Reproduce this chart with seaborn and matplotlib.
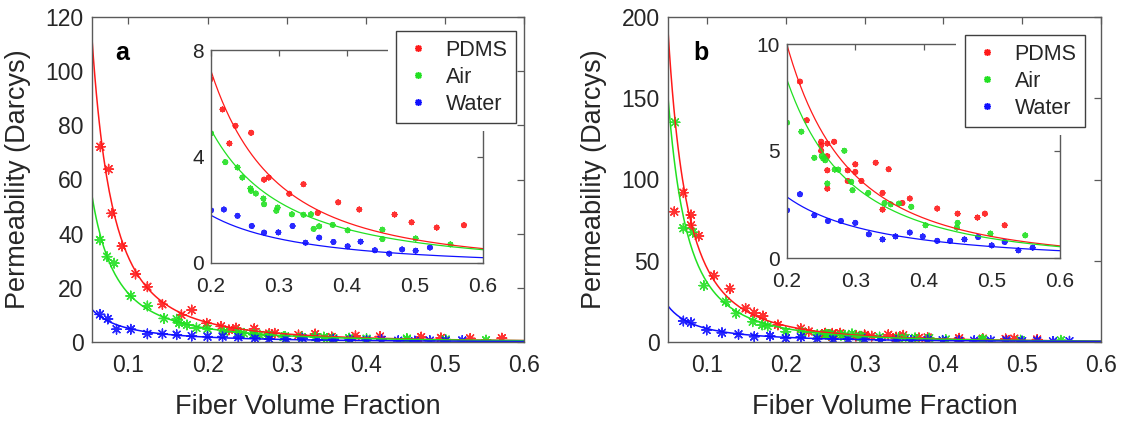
import numpy as np
import pandas as pd
import matplotlib
matplotlib.use("Agg")
import matplotlib.pyplot as plt
from matplotlib.lines import Line2D
from matplotlib.patches import Rectangle
import seaborn as sns

sns.set_style("white")
plt.rcParams['font.family'] = ['Liberation Sans', 'DejaVu Sans']

fluids = ["PDMS", "Air", "Water"]
colors = {"PDMS": "#ff1a1a", "Air": "#22e022", "Water": "#1010ff"}

# ---------------- Panel a data ----------------
a_pdms_x = [0.0646, 0.075, 0.079, 0.092, 0.109, 0.124, 0.143, 0.167, 0.180, 0.199,
            0.217, 0.227, 0.236, 0.259, 0.278, 0.285, 0.315, 0.336, 0.357, 0.387,
            0.418, 0.470, 0.495, 0.532, 0.572]
a_pdms_y = [72.1, 63.8, 47.5, 35.4, 25.1, 20.4, 13.9, 10.0, 11.8, 6.9,
            5.77, 4.49, 5.15, 4.89, 3.13, 3.21, 2.60, 2.96, 1.88, 2.28,
            2.01, 1.82, 1.53, 1.33, 1.42]
a_air_x = [0.064, 0.073, 0.082, 0.103, 0.124, 0.145, 0.161, 0.164, 0.174, 0.186,
           0.200, 0.221, 0.239, 0.246, 0.258, 0.259, 0.266, 0.277, 0.278, 0.296,
           0.298, 0.319, 0.336, 0.347, 0.351, 0.359, 0.379, 0.401, 0.452, 0.452,
           0.501, 0.552]
a_air_y = [37.7, 31.5, 29.1, 17.0, 13.3, 8.7, 8.4, 7.0, 6.3, 5.2,
           4.87, 3.79, 3.59, 3.21, 2.80, 2.71, 2.61, 2.42, 2.21, 1.96,
           2.08, 1.83, 1.81, 1.83, 1.28, 1.38, 1.43, 1.23, 1.25, 0.90,
           0.92, 0.70]
a_water_x = [0.064, 0.074, 0.085, 0.103, 0.124, 0.143, 0.161, 0.180,
             0.200, 0.219, 0.239, 0.260, 0.278, 0.299, 0.320, 0.339, 0.359,
             0.380, 0.401, 0.420, 0.441, 0.462, 0.481, 0.501, 0.522]
a_water_y = [10.2, 8.5, 4.7, 4.7, 3.0, 3.0, 2.7, 2.2,
             1.98, 2.01, 1.77, 1.39, 1.14, 1.15, 1.39, 0.76, 0.95,
             0.79, 0.63, 0.80, 0.48, 0.35, 0.51, 0.46, 0.58]

# ---------------- Panel b data ----------------
b_pdms_x = [0.0585, 0.070, 0.0797, 0.0797, 0.0895, 0.109, 0.129, 0.149, 0.160, 0.171,
            0.190, 0.219, 0.229, 0.250, 0.250, 0.250, 0.259, 0.269, 0.259, 0.259,
            0.259, 0.289, 0.289, 0.300, 0.300, 0.309, 0.330, 0.340, 0.340, 0.349,
            0.369, 0.380, 0.420, 0.450, 0.479, 0.490, 0.519]
b_pdms_y = [80.2, 91.9, 78.2, 71.8, 65.2, 40.8, 32.8, 20.7, 18.0, 16.0,
            10.5, 8.24, 6.44, 5.43, 5.27, 5.01, 5.35, 5.43, 4.76, 4.10,
            3.24, 4.10, 3.60, 4.38, 4.02, 3.60, 4.45, 3.04, 2.26, 4.15,
            2.57, 2.78, 2.31, 2.07, 1.89, 2.07, 1.53]
b_air_x = [0.0594, 0.070, 0.0819, 0.096, 0.124, 0.137, 0.158, 0.170, 0.177,
           0.200, 0.221, 0.240, 0.251, 0.253, 0.256, 0.259, 0.270, 0.275, 0.284,
           0.294, 0.296, 0.319, 0.343, 0.352, 0.364, 0.382, 0.403, 0.449, 0.450,
           0.498, 0.549]
b_air_y = [135.2, 70.0, 67.5, 34.7, 24.8, 17.6, 12.5, 10.5, 9.8,
           6.32, 5.90, 4.68, 4.76, 4.65, 4.57, 3.48, 4.13, 4.13, 5.01,
           3.56, 3.17, 3.04, 2.57, 2.51, 2.54, 2.39, 1.53, 1.42, 1.64,
           1.14, 1.06]
b_water_x = [0.070, 0.0797, 0.0996, 0.119, 0.140, 0.160, 0.180,
             0.200, 0.219, 0.240, 0.260, 0.279, 0.300, 0.320, 0.340, 0.359,
             0.380, 0.399, 0.420, 0.439, 0.460, 0.480, 0.500, 0.519, 0.539, 0.560]
b_water_y = [12.9, 11.9, 7.4, 5.7, 4.7, 3.3, 3.7,
             2.23, 2.98, 2.00, 1.73, 1.73, 1.64, 1.11, 0.87, 1.01,
             1.19, 1.01, 0.80, 0.80, 0.87, 0.98, 0.59, 0.75, 0.36, 0.48]

# fitted model curves K = A * Vf^-b * (1 - Vf)^n  (parameters read from the drawn fits)
fit_a = {"PDMS": (0.310, 2.028, 0.525), "Air": (0.341, 1.746, 0.556), "Water": (0.2745, 1.315, 1.078)}
fit_b = {"PDMS": (0.4607, 2.036, 0.912), "Air": (0.3952, 2.005, 0.802), "Water": (0.3746, 1.382, 0.873)}

xlim_a = (0.054, 0.6)
xlim_b = (0.0505, 0.6)


def make_points(xs, ys):
    rows = []
    for f, x, y in zip(fluids, xs, ys):
        rows.append(pd.DataFrame({"x": x, "y": y, "fluid": f}))
    return pd.concat(rows, ignore_index=True)


def make_fit(params, lo):
    rows = []
    grid = np.linspace(lo, 0.6, 300)
    for f in fluids:
        A, b, n = params[f]
        rows.append(pd.DataFrame({"x": grid, "y": A * grid ** (-b) * (1 - grid) ** n, "fluid": f}))
    return pd.concat(rows, ignore_index=True)


pts_a = make_points([a_pdms_x, a_air_x, a_water_x], [a_pdms_y, a_air_y, a_water_y])
pts_b = make_points([b_pdms_x, b_air_x, b_water_x], [b_pdms_y, b_air_y, b_water_y])
fit_a_df = make_fit(fit_a, xlim_a[0])
fit_b_df = make_fit(fit_b, xlim_b[0])

W, H = 1125, 421
fig = plt.figure(figsize=(W / 100, H / 100), dpi=100)


def px_axes(l, t, r, b):
    return fig.add_axes([l / W, 1 - b / H, (r - l) / W, (b - t) / H])


TXT = "#262626"
SPINE = "#5a5a5a"
ast = (8, 2, 0)


def style(ax, tick_size, ticklen, padx, pady):
    for s in ax.spines.values():
        s.set_color(SPINE)
        s.set_linewidth(1.0)
        s.set_visible(True)
    ax.tick_params(axis="both", which="both", direction="in", top=True, right=True,
                   length=ticklen, width=0.9, color=SPINE, labelcolor=TXT,
                   labelsize=tick_size)
    ax.tick_params(axis="x", pad=padx)
    ax.tick_params(axis="y", pad=pady)
    ax.set_facecolor("white")


def draw(ax, pts, fit, xlim, ylim, yticks, main):
    sns.lineplot(data=fit, x="x", y="y", hue="fluid", hue_order=fluids, palette=colors,
                 ax=ax, legend=False, linewidth=1.1 if main else 0.9, sort=False)
    sns.scatterplot(data=pts, x="x", y="y", hue="fluid", hue_order=fluids, palette=colors,
                    ax=ax, legend=False, marker=ast, s=48 if main else 9,
                    linewidth=1.0 if main else 1.4, edgecolor=None, alpha=0.9)
    ax.set_xlim(*xlim)
    ax.set_ylim(*ylim)
    ax.set_yticks(yticks)
    ax.set_xlabel("")
    ax.set_ylabel("")


# main axes
ax_a = px_axes(92, 17, 524, 342)
ax_b = px_axes(668, 17, 1101, 342)
for ax, pts, fit, xl, yl, yt in [
        (ax_a, pts_a, fit_a_df, xlim_a, (0, 120), [0, 20, 40, 60, 80, 100, 120]),
        (ax_b, pts_b, fit_b_df, xlim_b, (0, 200), [0, 50, 100, 150, 200])]:
    draw(ax, pts, fit, xl, yl, yt, True)
    ax.set_xticks([0.1, 0.2, 0.3, 0.4, 0.5, 0.6])
    ax.set_xticklabels(["0.1", "0.2", "0.3", "0.4", "0.5", "0.6"])
    style(ax, 16.5, 5, 9, 6)
    ax.set_xlabel("Fiber Volume Fraction", fontsize=19.5, color=TXT)
    ax.set_ylabel("Permeability (Darcys)", fontsize=19.5, color=TXT)
    ax.xaxis.set_label_coords(0.5, -0.16)

ax_a.yaxis.set_label_coords(-0.142, 0.5)
ax_b.yaxis.set_label_coords(-0.14, 0.5)

ax_a.text(0.07, 0.89, "a", transform=ax_a.transAxes, fontsize=18, fontweight="bold",
          color="black", ha="center", va="center")
ax_b.text(0.075, 0.89, "b", transform=ax_b.transAxes, fontsize=18, fontweight="bold",
          color="black", ha="center", va="center")

# insets
in_a = px_axes(211, 50, 483, 263)
in_b = px_axes(787, 44, 1060, 258)
for ax, pts, fit, xl, yl, yt in [
        (in_a, pts_a, fit_a_df, xlim_a, (0, 8), [0, 4, 8]),
        (in_b, pts_b, fit_b_df, xlim_b, (0, 10), [0, 5, 10])]:
    draw(ax, pts, fit, xl, yl, yt, False)
    ax.set_xlim(0.2, 0.6)
    ax.set_xticks([0.2, 0.3, 0.4, 0.5, 0.6])
    ax.set_xticklabels(["0.2", "0.3", "0.4", "0.5", "0.6"])
    style(ax, 15, 4, 10, 5)

# white areas behind the legends (cover inset corners)
fig.patches.append(Rectangle((388 / W, 1 - 131 / H), 127 / W, 103 / H, transform=fig.transFigure,
                             facecolor="white", edgecolor="none", zorder=4))
fig.patches.append(Rectangle((956 / W, 1 - 135 / H), 130 / W, 103 / H, transform=fig.transFigure,
                             facecolor="white", edgecolor="none", zorder=4))

handles = [Line2D([], [], linestyle="none", marker=ast, markersize=5, markeredgewidth=1.1,
                  color=colors[f]) for f in fluids]
for lx, ly in [(396, 31), (965, 35)]:
    leg = fig.legend(handles, fluids, loc="upper left", bbox_to_anchor=(lx / W, 1 - ly / H),
                     bbox_transform=fig.transFigure, borderaxespad=0, fontsize=15.5,
                     frameon=True, fancybox=False, framealpha=1, edgecolor="#404040",
                     handlelength=1.2, handletextpad=0.7, labelspacing=0.28, borderpad=0.4,
                     labelcolor=TXT)
    leg.get_frame().set_linewidth(1.0)
    leg.set_zorder(6)

fig.savefig("out.png", dpi=100, facecolor="white")
